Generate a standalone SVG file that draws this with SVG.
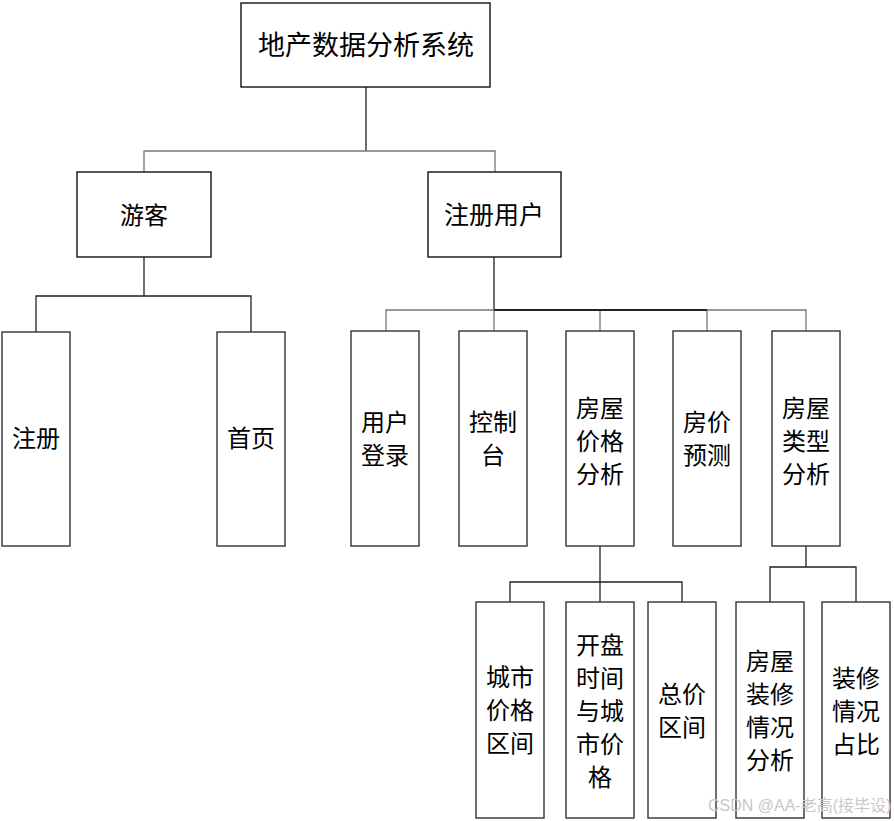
<svg xmlns="http://www.w3.org/2000/svg" width="894" height="821" viewBox="0 0 894 821">
<style>
.box{fill:#fff;stroke:#333;stroke-width:1.4}
.t{font-family:"Noto Sans CJK SC","Noto Sans CJK JP",sans-serif;font-size:24px;fill:#000;text-anchor:middle;dominant-baseline:central;transform:translateY(-2px)}
.big{font-size:27px}
.ln{fill:none;stroke:#222;stroke-width:1.3}
.lg{fill:none;stroke:#777;stroke-width:1.3}
.wm{font-family:"Liberation Sans","Noto Sans CJK SC",sans-serif;font-size:16px;fill:#c8c8c8}
</style>
<rect width="894" height="821" fill="#fff"/>
<g id="connectors">
<path class="ln" d="M366 87V151"/>
<path class="lg" d="M144 172V151H495V172"/>
<path class="ln" d="M144 257V296M36 332V296H251V332"/>
<path class="ln" d="M494 257V310"/>
<path class="lg" d="M386 331V310H806V331M494 310V331M600 310V331M707 310V331"/>
<path class="ln" d="M494 310H707" style="stroke-width:2"/>
<path class="ln" d="M600 546V582M510 602V582H682V602M600 582V602"/>
<path class="ln" d="M806 546V567M770 602V567H856V602"/>
</g>
<g id="n-root"><rect class="box" x="241" y="3" width="249" height="84" style="stroke:#111"/><text class="t big" x="366" y="45">地产数据分析系统</text></g>
<g id="n-guest"><rect class="box" x="77" y="172" width="134" height="85" style="stroke:#111"/><text class="t" x="144" y="215">游客</text></g>
<g id="n-user"><rect class="box" x="428" y="172" width="133" height="85" style="stroke:#111"/><text class="t big" x="494" y="215" style="font-size:25px">注册用户</text></g>
<g id="n-register"><rect class="box" x="2" y="332" width="68" height="214"/><text class="t" x="36" y="438">注册</text></g>
<g id="n-home"><rect class="box" x="217" y="332" width="68" height="214"/><text class="t" x="251" y="438">首页</text></g>
<g id="n-login"><rect class="box" x="351" y="331" width="68" height="215"/><text class="t" x="385" y="422">用户</text><text class="t" x="385" y="455">登录</text></g>
<g id="n-console"><rect class="box" x="459" y="331" width="68" height="215"/><text class="t" x="493" y="422">控制</text><text class="t" x="493" y="455">台</text></g>
<g id="n-price"><rect class="box" x="566" y="331" width="68" height="215"/><text class="t" x="600" y="408">房屋</text><text class="t" x="600" y="441">价格</text><text class="t" x="600" y="474">分析</text></g>
<g id="n-predict"><rect class="box" x="673" y="331" width="68" height="215"/><text class="t" x="707" y="422">房价</text><text class="t" x="707" y="455">预测</text></g>
<g id="n-type"><rect class="box" x="772" y="331" width="68" height="215"/><text class="t" x="806" y="408">房屋</text><text class="t" x="806" y="441">类型</text><text class="t" x="806" y="474">分析</text></g>
<g id="n-city"><rect class="box" x="476" y="602" width="68" height="216"/><text class="t" x="510" y="677">城市</text><text class="t" x="510" y="710">价格</text><text class="t" x="510" y="743">区间</text></g>
<g id="n-open"><rect class="box" x="566" y="602" width="68" height="216"/><text class="t" x="600" y="645">开盘</text><text class="t" x="600" y="678">时间</text><text class="t" x="600" y="711">与城</text><text class="t" x="600" y="744">市价</text><text class="t" x="600" y="777">格</text></g>
<g id="n-total"><rect class="box" x="648" y="602" width="68" height="216"/><text class="t" x="682" y="694">总价</text><text class="t" x="682" y="727">区间</text></g>
<g id="n-deco"><rect class="box" x="736" y="602" width="68" height="216"/><text class="t" x="770" y="661">房屋</text><text class="t" x="770" y="694">装修</text><text class="t" x="770" y="727">情况</text><text class="t" x="770" y="760">分析</text></g>
<g id="n-ratio"><rect class="box" x="822" y="602" width="68" height="216"/><text class="t" x="856" y="678">装修</text><text class="t" x="856" y="711">情况</text><text class="t" x="856" y="744">占比</text></g>
<text class="wm" x="708" y="811">CSDN @AA-老高(接毕设)</text>
</svg>
